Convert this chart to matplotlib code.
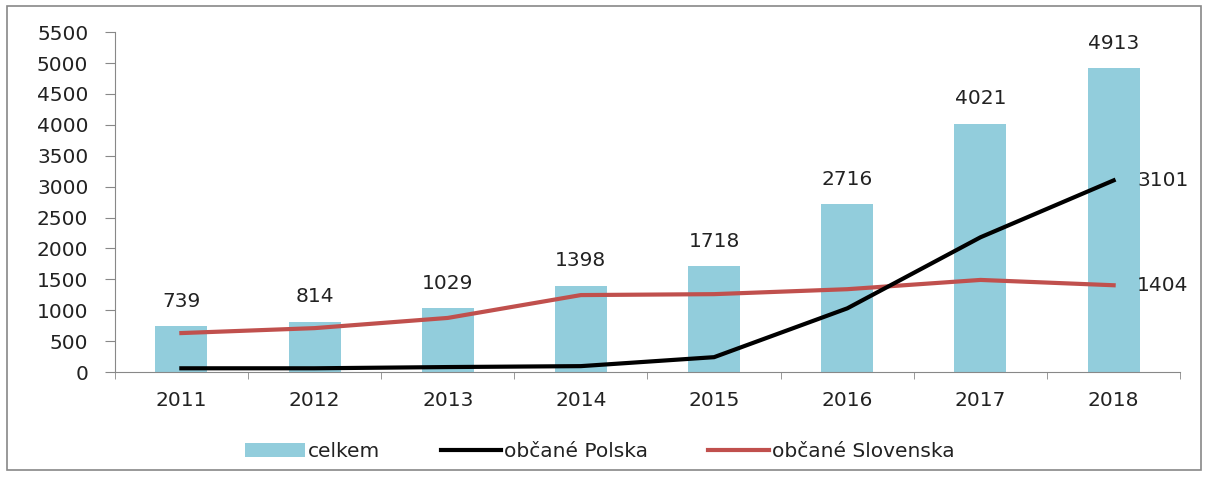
import matplotlib.pyplot as plt
import numpy as np
from matplotlib.patches import Rectangle

# === DATA ===
years = ["2011", "2012", "2013", "2014", "2015", "2016", "2017", "2018"]
celkem = [739, 814, 1029, 1398, 1718, 2716, 4021, 4913]
polska = [60, 60, 80, 95, 240, 1030, 2180, 3101]
slovenska = [630, 710, 875, 1245, 1260, 1340, 1490, 1404]

BAR_COLOR = "#92CDDC"
POL_COLOR = "#000000"
SVK_COLOR = "#C0504D"
TEXT_COLOR = "#222222"
FS = 14.5

plt.rcParams["font.family"] = ["DejaVu Sans"]

fig = plt.figure(figsize=(12.08, 4.8), dpi=100)
ax = fig.add_axes([0.095, 0.225, 0.882, 0.708])

x = np.arange(len(years))
ax.bar(x, celkem, width=0.39, color=BAR_COLOR, label="celkem", zorder=1)
ax.plot(x, polska, color=POL_COLOR, lw=3, label="občané Polska", zorder=3)
ax.plot(x, slovenska, color=SVK_COLOR, lw=3, label="občané Slovenska", zorder=2)

# value labels
for xi, v in zip(x, celkem):
    ax.annotate(str(v), (xi, v), xytext=(0, 11), textcoords="offset points",
                ha="center", va="bottom", fontsize=FS, color=TEXT_COLOR)
ax.annotate(str(polska[-1]), (x[-1], polska[-1]), xytext=(17, 0),
            textcoords="offset points", ha="left", va="center", fontsize=FS,
            color=TEXT_COLOR)
ax.annotate(str(slovenska[-1]), (x[-1], slovenska[-1]), xytext=(17, 0),
            textcoords="offset points", ha="left", va="center", fontsize=FS,
            color=TEXT_COLOR)

ax.set_xlim(-0.5, len(years) - 0.5)
ax.set_ylim(0, 5500)
ax.set_yticks(np.arange(0, 5501, 500))
ax.set_xticks(x)
ax.set_xticklabels(years)
ax.set_xticks(np.arange(-0.5, len(years), 1), minor=True)
ax.tick_params(axis="x", which="major", length=0, labelsize=FS, pad=14,
               labelcolor=TEXT_COLOR)
ax.tick_params(axis="x", which="minor", length=5, color="#888888", direction="out")
ax.tick_params(axis="y", length=7, color="#888888", labelsize=FS, pad=12,
               labelcolor=TEXT_COLOR)

for s in ["top", "right"]:
    ax.spines[s].set_visible(False)
for s in ["left", "bottom"]:
    ax.spines[s].set_color("#888888")

handles, labels = ax.get_legend_handles_labels()
order = [labels.index("celkem"), labels.index("občané Polska"),
         labels.index("občané Slovenska")]
ax.legend([handles[i] for i in order], [labels[i] for i in order],
          loc="center", bbox_to_anchor=(0.455, -0.233), ncol=3, frameon=False,
          fontsize=FS, handlelength=3.0, columnspacing=3.0, handletextpad=0.15,
          labelcolor=TEXT_COLOR)

# outer border
fig.patches.append(Rectangle((0.006, 0.02), 0.988, 0.968, transform=fig.transFigure,
                             fill=False, edgecolor="#888888", lw=1.2))

fig.savefig("out.png", dpi=100)
